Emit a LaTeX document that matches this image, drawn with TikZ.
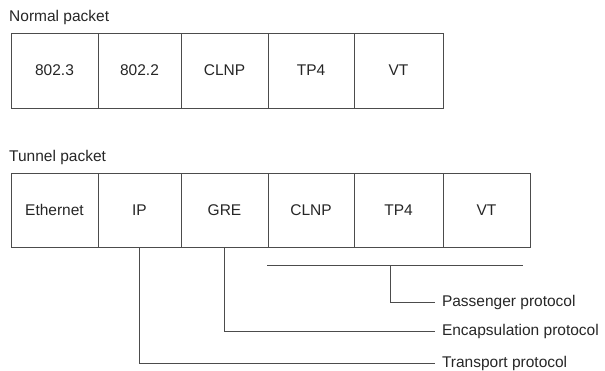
\documentclass[tikz,border=0pt]{standalone}
\usepackage{fontspec}
\setmainfont{Liberation Sans}
\usetikzlibrary{positioning}
\tikzset{%
  pktcell/.style  = {shape=rectangle, draw=black!70, line width=0.8pt,%
                     minimum height=75pt, inner sep=0pt, outer sep=0pt},%
  pkttitle/.style = {anchor=base west, inner sep=0pt},%
  proto/.style    = {anchor=west, inner xsep=7pt, inner ysep=0pt, outer sep=0pt},%
  leadline/.style = {draw=black!70, line width=0.8pt}%
}

\begin{document}
\begin{tikzpicture}[x=1pt,y=-1pt,
	every node/.style = {font=\fontsize{15.5}{18}\selectfont, text=black!85}]
	\useasboundingbox (0,0) rectangle (605,370);
	% normal packet
	\node [pkttitle] (ntitle) at (9,21) {Normal packet};
	\node [pktcell, anchor=north west, minimum width=87pt] (n8023) at (11,33) {802.3};
	\node [pktcell, right=0pt of n8023, minimum width=83pt] (n8022) {802.2};
	\node [pktcell, right=0pt of n8022, minimum width=87pt] (nclnp) {CLNP};
	\node [pktcell, right=0pt of nclnp, minimum width=86pt] (ntp) {TP4};
	\node [pktcell, right=0pt of ntp, minimum width=89pt] (nvt) {VT};
	% tunnel packet
	\node [pkttitle] (ttitle) at (9,161) {Tunnel packet};
	\node [pktcell, anchor=north west, minimum width=87pt, minimum height=74pt] (teth) at (11,173) {Ethernet};
	\node [pktcell, right=0pt of teth, minimum width=83pt, minimum height=74pt] (tip) {IP};
	\node [pktcell, right=0pt of tip, minimum width=87pt, minimum height=74pt] (tgre) {GRE};
	\node [pktcell, right=0pt of tgre, minimum width=86pt, minimum height=74pt] (tclnp) {CLNP};
	\node [pktcell, right=0pt of tclnp, minimum width=89pt, minimum height=74pt] (ttp) {TP4};
	\node [pktcell, right=0pt of ttp, minimum width=87pt, minimum height=74pt] (tvt) {VT};
	% protocol leads
	\coordinate (pl) at (267,265);
	\coordinate (pr) at (523,265);
	\coordinate (pm) at (390,265);
	\node [proto] (pass) at (435,302) {Passenger protocol};
	\node [proto] (encap) at (435,331) {Encapsulation protocol};
	\node [proto] (trans) at (435,363) {Transport protocol};
	\draw [leadline] (pl) -- (pr);
	\draw [leadline] (pm) |- (pass.west);
	\draw [leadline] (tgre.south) |- (encap.west);
	\draw [leadline] (tip.south) |- (trans.west);
\end{tikzpicture}
\end{document}
